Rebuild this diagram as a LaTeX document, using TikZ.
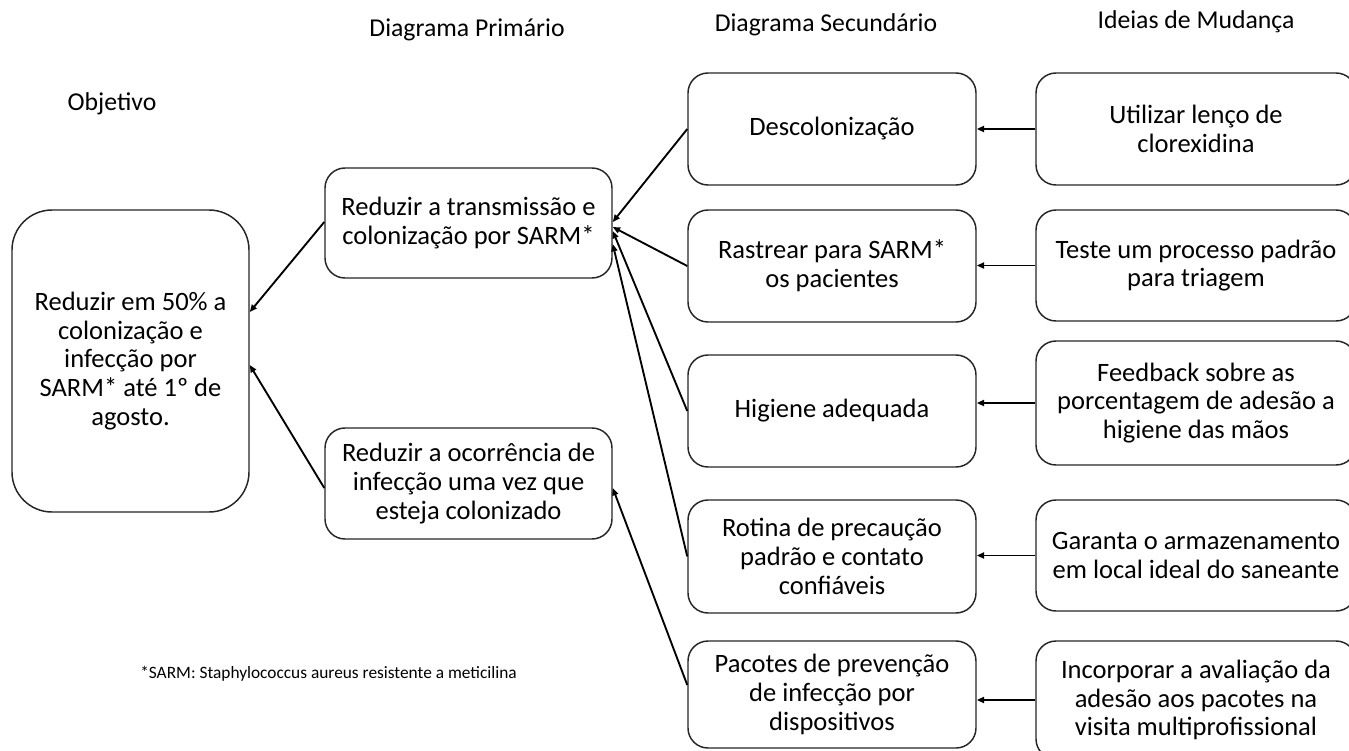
\documentclass[tikz,border=0pt]{standalone}
\usepackage{fontspec}
\setmainfont{Carlito}
\usetikzlibrary{arrows.meta,calc}
\newcommand\boxfnt{\fontsize{19.9}{21.5}\selectfont}
\newcommand\hdrfnt{\fontsize{19.3}{21}\selectfont}
\newcommand\ftfnt{\fontsize{13}{15}\selectfont}
\begin{document}
\begin{tikzpicture}[x=0.75pt,y=-0.75pt,
  box/.style={draw=black!85, line width=1.1pt, rounded corners=15pt, align=center, inner sep=0pt, font=\boxfnt},
  arr/.style={line width=1.4pt, -{Triangle[length=5.5pt,width=4.5pt]}},
  hdr/.style={font=\hdrfnt, anchor=base, inner sep=0pt}]
\fill[white] (0,0) rectangle (1349,750);
\path[use as bounding box, clip] (0,0) rectangle (1349,750);

% headers
\node[hdr] (h0) at (112,110) {Objetivo};
\node[hdr] (h1) at (467,36) {Diagrama Primário};
\node[hdr] (h2) at (826,31) {Diagrama Secundário};
\node[hdr] (h3) at (1196,28) {Ideias de Mudança};

% objective
\node[box, minimum width=177.75pt, minimum height=226.5pt, rounded corners=30pt] (obj) at (130.5,361)
  {Reduzir em 50\% a\\colonização e\\infecção por\\SARM* até 1º de\\agosto.};

% primary
\node[box, minimum width=215.25pt, minimum height=82.5pt] (p1) at (468.5,223)
  {Reduzir a transmissão e\\colonização por SARM*};
\node[box, minimum width=215.25pt, minimum height=83.25pt] (p2) at (468.5,483.5)
  {Reduzir a ocorrência de\\infecção uma vez que\\esteja colonizado};

% secondary
\node[box, minimum width=216pt, minimum height=84pt] (s1) at (832,129) {Descolonização};
\node[box, minimum width=216pt, minimum height=84pt] (s2) at (832,266) {Rastrear para SARM*\\os pacientes};
\node[box, minimum width=216pt, minimum height=84pt] (s3) at (832,411) {Higiene adequada};
\node[box, minimum width=216pt, minimum height=84.75pt] (s4) at (832,556.5) {Rotina de precaução\\padrão e contato\\confiáveis};
\node[box, minimum width=216pt, minimum height=80.25pt] (s5) at (832,694.5) {Pacotes de prevenção\\de infecção por\\dispositivos};

% change ideas
\node[box, minimum width=240pt, minimum height=84pt] (r1) at (1196,129) {Utilizar lenço de\\clorexidina};
\node[box, minimum width=240pt, minimum height=83.25pt] (r2) at (1196,265.5) {Teste um processo padrão\\para triagem};
\node[box, minimum width=240pt, minimum height=93pt] (r3) at (1196,403) {Feedback sobre as\\porcentagem de adesão a\\higiene das mãos};
\node[box, minimum width=240pt, minimum height=83.25pt] (r4) at (1196,555.5) {Garanta o armazenamento\\em local ideal do saneante};
\node[box, minimum width=240pt, minimum height=88.5pt] (r5) at (1196,700) {Incorporar a avaliação da\\adesão aos pacotes na\\visita multiprofissional};

% connectors right -> secondary
\draw[arr] (r1.west) -- (r1.west -| s1.east);
\draw[arr] (r2.west) -- (r2.west -| s2.east);
\draw[arr] (r3.west) -- (r3.west -| s3.east);
\draw[arr] (r4.west) -- (r4.west -| s4.east);
\draw[arr] (r5.west) -- (r5.west -| s5.east);

% secondary -> primary
\draw[arr] (s1.west) -- ($(p1.east)+(0,-1)$);
\draw[arr] (s2.west) -- ($(p1.east)+(0,4)$);
\draw[arr] (s3.west) -- ($(p1.east)+(0,8)$);
\draw[arr] (s4.west) -- ($(p1.east)+(0,21)$);
\draw[arr] ($(s5.west)+(0,-9.5)$) -- ($(p2.east)+(0,4.5)$);

% primary -> objective
\draw[arr] ($(p1.west)+(0,-1)$) -- ($(obj.east)+(0,-49)$);
\draw[arr] ($(p2.west)+(0,4.5)$) -- ($(obj.east)+(0,4)$);

% footnote
\node[font=\ftfnt, anchor=base west, inner sep=0pt] (fn) at (140,678) {*SARM: Staphylococcus aureus resistente a meticilina};
\end{tikzpicture}
\end{document}
